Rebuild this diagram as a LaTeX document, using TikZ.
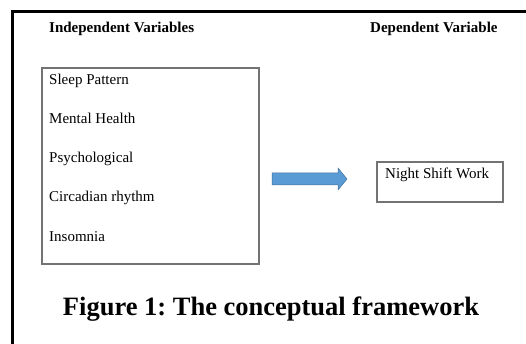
\documentclass[tikz,border=0pt]{standalone}
\usepackage{fontspec}
\setmainfont{Liberation Serif}
\usepackage{tikz}
\frenchspacing

\definecolor{arrowblue}{HTML}{5B9BD5}
\definecolor{arrowline}{HTML}{41719C}

\tikzset{
  heading/.style={font=\fontsize{15}{18}\selectfont\bfseries, anchor=base west, inner sep=0pt},
  item/.style={font=\fontsize{15}{18}\selectfont, anchor=base west, inner sep=0pt},
  varbox/.style={draw=black!55, line width=1.2pt},
}

\begin{document}
\begin{tikzpicture}[x=1pt,y=1pt]
        \useasboundingbox (0,0) rectangle (526,-344);
        \draw[line width=2.2pt] (12.5,-344) -- (12.5,-11.5) -- (526,-11.5);
        \node[heading] (ivhead) at (49,-33) {Independent Variables};
        \node[heading] (dvhead) at (370,-33) {Dependent Variable};
        \draw[varbox] (42,-68) rectangle (259,-264);
        \node[item] (sleep) at (49,-85) {Sleep Pattern};
        \node[item] (mental) at (49,-124) {Mental Health};
        \node[item] (psych) at (49,-163) {Psychological};
        \node[item] (circ) at (49,-202) {Circadian rhythm};
        \node[item] (insom) at (49,-241) {Insomnia};
        \draw[varbox] (377,-162) rectangle (503,-202);
        \node[item] (night) at (385,-179) {Night Shift Work};
        \coordinate (arrowtail) at (272,-179);
        \filldraw[fill=arrowblue, draw=arrowline, line width=0.5pt]
          (arrowtail) -- ++(0,6) -- ++(66,0) -- ++(0,5) -- ++(9,-11)
          -- ++(-9,-11) -- ++(0,5) -- ++(-66,0) -- cycle;
        \node[font=\fontsize{26.5}{30}\selectfont\bfseries, anchor=base, inner sep=0pt]
          (caption) at (271,-315) {Figure 1: The conceptual framework};
    \end{tikzpicture}
\end{document}
